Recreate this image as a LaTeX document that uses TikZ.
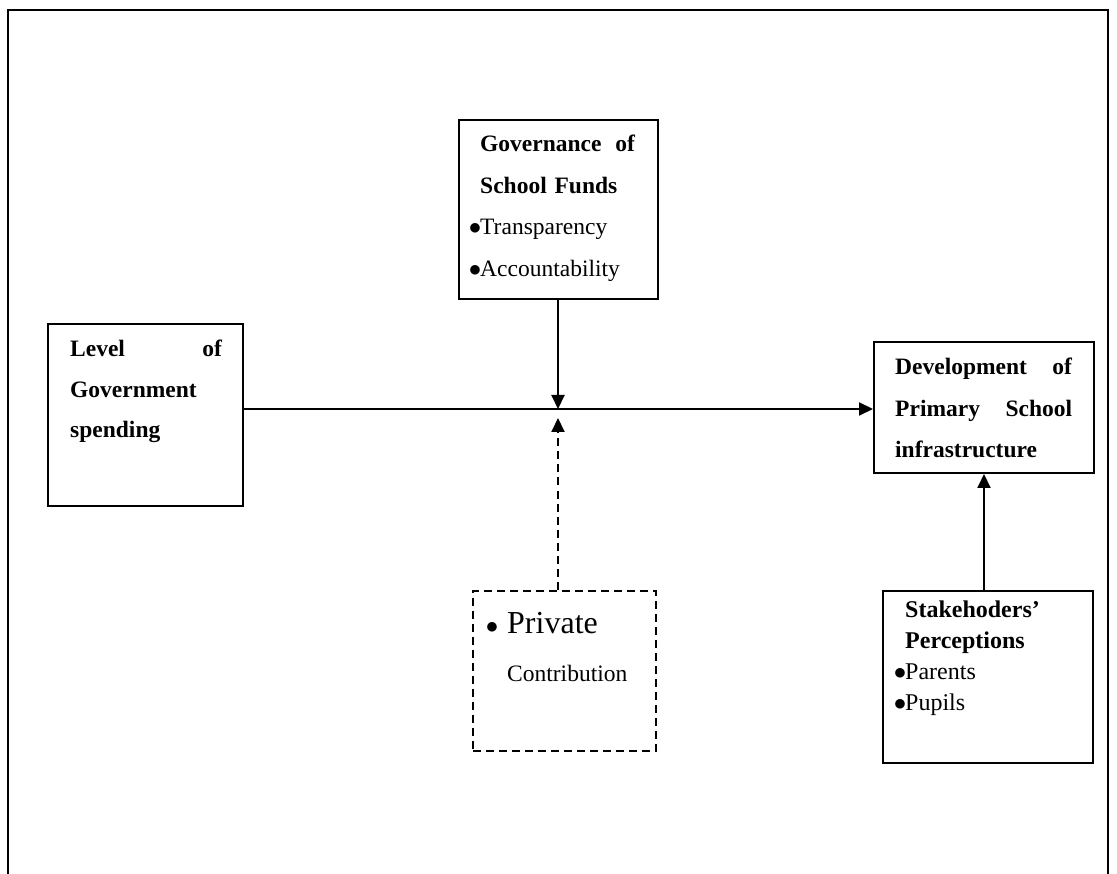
\documentclass[tikz,border=0pt]{standalone}
\usepackage{fontspec}
\setmainfont{Liberation Serif}
\usetikzlibrary{arrows.meta}

\begin{document}
\begin{tikzpicture}[x=1pt, y=-1pt]
 \tikzset{
  blk/.style={draw, line width=2pt, inner sep=0pt},
  dblk/.style={blk, dash pattern=on 8pt off 5pt},
  txt/.style={anchor=base west, inner sep=0pt, align=left, font=\fontsize{23.5}{41.5}\selectfont},
  lnk/.style={-{Triangle[length=14pt, width=13pt]}, line width=2pt},
  dlnk/.style={lnk, dash pattern=on 8pt off 5pt}
 }
 \def\bul{\leavevmode\llap{$\bullet$\hspace{-1pt}}}

 \useasboundingbox (0,0) rectangle (1117,874);
 \draw [line width=1.5pt] (8,874) -- (8,10) -- (1108,10) -- (1108,874);

 % boxes
 \node [blk, minimum width=199pt, minimum height=179pt] (gov) at (558.5,209.5) {};
 \node [blk, minimum width=195pt, minimum height=182pt] (lev) at (145.5,415) {};
 \node [blk, minimum width=220pt, minimum height=131pt] (dev) at (984,407.5) {};
 \node [dblk, minimum width=183pt, minimum height=160pt] (priv) at (564.5,670.5) {};
 \node [blk, minimum width=210pt, minimum height=172pt] (stk) at (988,677) {};

 % texts
 \node [txt, text width=155pt] (govtxt) at (480,152)
  {\textbf{Governance \hfill of}\\ \textbf{School Funds}\\ \bul Transparency\\ \bul Accountability};
 \node [txt, text width=152pt, font=\fontsize{23.5}{40.5}\selectfont] (levtxt) at (70,357)
  {\textbf{Level \hfill of}\\ \textbf{Government}\\ \textbf{spending}};
 \node [txt, text width=177pt] (devtxt) at (895,375)
  {\textbf{Development \hfill of}\\ \textbf{Primary \hfill School}\\ \textbf{infrastructure}};
 \node [txt, text width=140pt, font=\fontsize{23.5}{48}\selectfont] (privtxt) at (507,633)
  {{\fontsize{32}{48}\selectfont\llap{$\bullet$\hspace{9pt}}Private}\\ Contribution};
 \node [txt, text width=180pt, font=\fontsize{24}{31}\selectfont] (stktxt) at (905,617)
  {\textbf{Stakehoders'}\\ \textbf{Perceptions}\\ \bul Parents\\ \bul Pupils};

 % links
 \coordinate (mid) at (558,409);
 \coordinate (midlow) at (558,418);
 \draw [lnk] (lev.east |- mid) -- (dev.west |- mid);
 \draw [lnk] (gov.south -| mid) -- (mid);
 \draw [dlnk] (priv.north -| mid) -- (midlow);
 \draw [lnk] (stk.north -| dev.south) -- (dev.south);
\end{tikzpicture}
\end{document}
